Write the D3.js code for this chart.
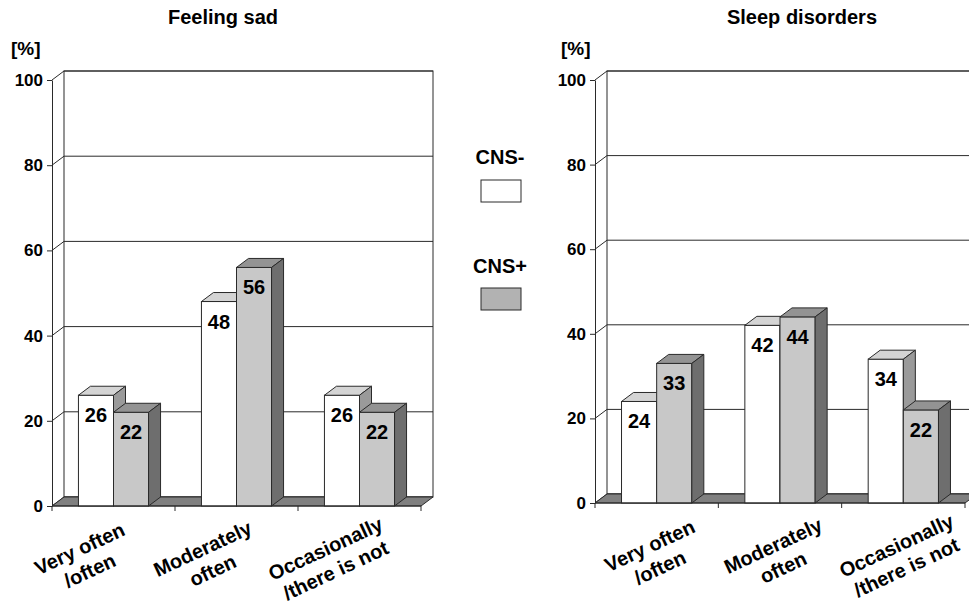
<!DOCTYPE html>
<html lang="en">
<head>
  <meta charset="UTF-8">
  <title>Feeling sad / Sleep disorders</title>
  <style>
    body { margin: 0; background: #fff; }
    svg { display: block; }
    text { font-family: "Liberation Sans", Arial, sans-serif; font-weight: bold; fill: #000; }
  </style>
  <script src="https://d3js.org/d3.v7.min.js"></script>
</head>
<body>
<svg id="chart" width="969" height="607"></svg>
<script>
  // Data
  const categories = [["Very often", "/often"], ["Moderately", "often"], ["Occasionally", "/there is not"]];
  const seriesNames = ["CNS-", "CNS+"];
  const sadValues = { "CNS-": [26, 48, 26], "CNS+": [22, 56, 22] };
  const sleepValues = { "CNS-": [24, 42, 34], "CNS+": [33, 44, 22] };
  const yTicks = [0, 20, 40, 60, 80, 100];

  const svg = d3.select("#chart");

  // 3D look
  const depth = {dx: 12, dy: -9};
  const front = {"CNS-": "#ffffff", "CNS+": "#c8c8c8"};
  const topC  = {"CNS-": "#d4d4d4", "CNS+": "#939393"};
  const sideC = {"CNS-": "#9a9a9a", "CNS+": "#6e6e6e"};
  const line = "#2a2a2a";

  function drawChart(opt) {
    const g = svg.append("g");
    const y = d3.scaleLinear().domain([0, 100]).range([opt.y0, opt.y100]);
    const x = d3.scaleBand().domain(d3.range(categories.length))
      .range([opt.x0, opt.x1]).paddingInner(0.43).paddingOuter(0.215);
    const xs = d3.scaleBand().domain(seriesNames).range([0, x.bandwidth()]);
    const {dx, dy} = depth;
    const bx0 = opt.x0 + dx, bx1 = opt.x1 + dx;

    // back wall
    g.append("rect")
      .attr("x", bx0).attr("y", y(100) + dy)
      .attr("width", bx1 - bx0).attr("height", y(0) - y(100))
      .attr("fill", "#fff").attr("stroke", line);

    // gridlines on back wall + diagonals on side wall
    yTicks.forEach(v => {
      g.append("line")
        .attr("x1", bx0).attr("x2", bx1)
        .attr("y1", y(v) + dy).attr("y2", y(v) + dy)
        .attr("stroke", line);
      g.append("line")
        .attr("x1", opt.x0).attr("y1", y(v))
        .attr("x2", bx0).attr("y2", y(v) + dy)
        .attr("stroke", line);
    });

    // floor
    g.append("path")
      .attr("d", `M${opt.x0},${y(0)}L${opt.x1},${y(0)}L${bx1},${y(0) + dy}L${bx0},${y(0) + dy}Z`)
      .attr("fill", "#808080").attr("stroke", line);

    // y axis
    g.append("g")
      .attr("transform", `translate(${opt.x0},0)`)
      .call(d3.axisLeft(y).tickValues(yTicks).tickSize(5).tickSizeOuter(0).tickPadding(4))
      .call(a => a.select(".domain").attr("stroke", line))
      .call(a => a.selectAll(".tick line").attr("stroke", line))
      .call(a => a.selectAll("text").attr("font-size", 17)
        .attr("font-family", '"Liberation Sans", Arial, sans-serif').attr("font-weight", "bold")
        .attr("fill", "#000"));

    // bars
    categories.forEach((c, i) => {
      seriesNames.forEach(s => {
        const v = opt.values[s][i];
        const xl = x(i) + xs(s), xr = xl + xs.bandwidth();
        const yt = y(v), yb = y(0);
        g.append("rect")
          .attr("x", xl).attr("y", yt).attr("width", xr - xl).attr("height", yb - yt)
          .attr("fill", front[s]).attr("stroke", line);
        g.append("path")
          .attr("d", `M${xl},${yt}L${xl + dx},${yt + dy}L${xr + dx},${yt + dy}L${xr},${yt}Z`)
          .attr("fill", topC[s]).attr("stroke", line);
        g.append("path")
          .attr("d", `M${xr},${yt}L${xr + dx},${yt + dy}L${xr + dx},${yb + dy}L${xr},${yb}Z`)
          .attr("fill", sideC[s]).attr("stroke", line);
        g.append("text")
          .attr("x", (xl + xr) / 2).attr("y", yt + 27)
          .attr("text-anchor", "middle").attr("font-size", 20)
          .text(v);
      });
    });

    // x axis
    const step = x.step();
    g.append("line")
      .attr("x1", opt.x0).attr("x2", opt.x1).attr("y1", y(0)).attr("y2", y(0))
      .attr("stroke", line);
    d3.range(categories.length + 1).forEach(i => {
      g.append("line")
        .attr("x1", opt.x0 + i * step).attr("x2", opt.x0 + i * step)
        .attr("y1", y(0)).attr("y2", y(0) + 5)
        .attr("stroke", line);
    });

    // category labels
    categories.forEach((c, i) => {
      const cx = x(i) + x.bandwidth() / 2 + opt.labelOff;
      const t = g.append("text")
        .attr("transform", `translate(${cx},${y(0) + 49}) rotate(-25)`)
        .attr("text-anchor", "middle").attr("font-size", 20);
      c.forEach((ln, k) => t.append("tspan").attr("x", 0).attr("y", k * 24).text(ln));
    });

    // title and unit
    g.append("text").attr("x", opt.titleX).attr("y", 24)
      .attr("text-anchor", "middle").attr("font-size", 20).text(opt.title);
    g.append("text").attr("x", opt.unitX).attr("y", 55)
      .attr("font-size", 19).text("[%]");
  }

  drawChart({title: "Feeling sad", values: sadValues, x0: 52, x1: 421, y0: 506, y100: 80,
    labelOff: -31, titleX: 223, unitX: 11});
  drawChart({title: "Sleep disorders", values: sleepValues, x0: 595, x1: 965, y0: 503, y100: 80,
    labelOff: -4, titleX: 802, unitX: 561});

  // legend
  const legend = svg.append("g");
  seriesNames.forEach((s, i) => {
    legend.append("text").attr("x", 500).attr("y", 164 + i * 109)
      .attr("text-anchor", "middle").attr("font-size", 20).text(s);
    legend.append("rect").attr("x", 481).attr("y", 180 + i * 108)
      .attr("width", 40).attr("height", 22)
      .attr("fill", i === 0 ? "#ffffff" : "#b2b2b2").attr("stroke", line);
  });
</script>
</body>
</html>
